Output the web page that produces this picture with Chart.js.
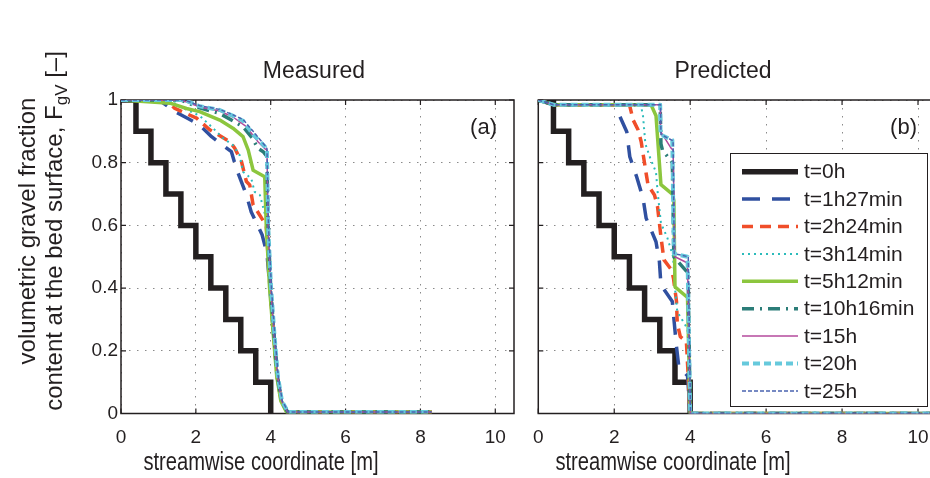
<!DOCTYPE html>
<html>
<head>
<meta charset="utf-8">
<script src="https://cdn.jsdelivr.net/npm/chart.js@4.4.0/dist/chart.umd.min.js"></script>
<style>
  body { margin: 0; background: #fff; }
  #wrap { position: relative; width: 930px; height: 478px; overflow: hidden; }
  #boxA { position: absolute; left: 0; top: 0; }
  #boxB { position: absolute; left: 520px; top: 0; }
</style>
</head>
<body>
<div id="wrap">
  <div id="boxA"><canvas id="chartA" width="520" height="478"></canvas></div>
  <div id="boxB"><canvas id="chartB" width="430" height="478"></canvas></div>
</div>
<script>
"use strict";

// ---------- data ----------
var xTicks = [0, 2, 4, 6, 8, 10];
var yTicks = [0, 0.2, 0.4, 0.6, 0.8, 1];
var seriesLabels = ["t=0h", "t=1h27min", "t=2h24min", "t=3h14min", "t=5h12min", "t=10h16min", "t=15h", "t=20h", "t=25h"];

// initial condition (stepwise), same in both panels
var initX = [0, 0.4, 0.8, 1.2, 1.6, 2.0, 2.4, 2.8, 3.2, 3.6, 4.0];
var initY = [1, 0.9, 0.8, 0.7, 0.6, 0.5, 0.4, 0.3, 0.2, 0.1, 0];

// measured
var meas1h27 = [[0,1],[1.0,1],[1.13,0.99],[1.44,0.963],[1.8,0.94],[2.1,0.92],[2.42,0.883],[2.95,0.835],[3.08,0.782],[3.35,0.697],[3.48,0.643],[3.77,0.57],[3.9,0.51],[3.98,0.4],[4.08,0.25],[4.17,0.12],[4.28,0.04],[4.44,0.005],[8.3,0.005]];
var meas2h24 = [[0,1],[1.2,1],[1.44,0.973],[2.02,0.942],[2.37,0.905],[2.91,0.867],[3.04,0.846],[3.22,0.803],[3.35,0.74],[3.44,0.729],[3.53,0.665],[3.62,0.649],[3.88,0.6],[3.98,0.4],[4.08,0.25],[4.17,0.12],[4.28,0.04],[4.44,0.005],[8.3,0.005]];
var meas3h14 = [[0,1],[1.3,1],[1.57,0.979],[2.1,0.95],[2.46,0.91],[2.73,0.878],[2.99,0.856],[3.17,0.824],[3.26,0.771],[3.48,0.75],[3.57,0.707],[3.71,0.697],[3.88,0.62],[3.98,0.4],[4.08,0.25],[4.17,0.12],[4.28,0.04],[4.44,0.005],[8.3,0.005]];
var meas5h12 = [[0,1],[1.31,0.99],[1.75,0.973],[2.1,0.963],[2.64,0.936],[2.99,0.91],[3.26,0.883],[3.4,0.84],[3.53,0.776],[3.84,0.755],[3.88,0.6],[3.97,0.4],[4.07,0.25],[4.16,0.12],[4.27,0.04],[4.42,0.005],[8.3,0.005]];
var meas10h16 = [[0,1],[1.6,1],[2.1,0.975],[2.64,0.957],[3.26,0.915],[3.5,0.88],[3.66,0.846],[3.8,0.835],[3.9,0.82],[3.93,0.6],[4.0,0.4],[4.09,0.25],[4.18,0.12],[4.29,0.04],[4.45,0.005],[8.3,0.005]];
var meas15h = [[0,1],[1.6,1],[2.1,0.978],[2.64,0.965],[3.0,0.945],[3.35,0.915],[3.66,0.867],[3.84,0.845],[3.9,0.84],[3.93,0.6],[4.0,0.4],[4.09,0.25],[4.18,0.12],[4.29,0.04],[4.45,0.005],[8.3,0.005]];
var meas20h = [[0,1],[1.7,1],[2.1,0.98],[2.64,0.968],[2.95,0.952],[3.26,0.934],[3.53,0.89],[3.84,0.852],[3.9,0.84],[3.93,0.6],[4.01,0.4],[4.1,0.25],[4.19,0.12],[4.3,0.04],[4.46,0.005],[8.3,0.005]];
var meas25h = [[0,1],[1.7,1],[2.1,0.982],[2.64,0.97],[2.95,0.955],[3.26,0.938],[3.53,0.9],[3.84,0.856],[3.9,0.845],[3.94,0.6],[4.02,0.4],[4.11,0.25],[4.2,0.12],[4.31,0.04],[4.47,0.005],[8.3,0.005]];

// predicted
var pred1h27 = [[0,1],[0.4,0.985],[2.0,0.985],[2.11,0.958],[2.33,0.899],[2.41,0.819],[2.59,0.755],[2.76,0.686],[2.84,0.623],[3.1,0.548],[3.19,0.484],[3.23,0.41],[3.53,0.357],[3.59,0.277],[3.64,0.213],[3.7,0.15],[3.93,0.12],[4.0,0],[10.5,0]];
var pred2h24 = [[0,1],[0.4,0.985],[2.4,0.985],[2.5,0.936],[2.63,0.904],[2.71,0.867],[2.84,0.766],[2.89,0.729],[3.06,0.697],[3.14,0.66],[3.23,0.564],[3.31,0.49],[3.51,0.458],[3.56,0.431],[3.64,0.357],[3.66,0.288],[3.74,0.245],[3.9,0.229],[4.0,0],[10.5,0]];
var pred3h14 = [[0,1],[0.4,0.985],[2.7,0.985],[2.76,0.947],[2.82,0.86],[2.95,0.814],[3.1,0.77],[3.14,0.71],[3.23,0.607],[3.4,0.56],[3.55,0.5],[3.6,0.4],[3.66,0.325],[3.87,0.282],[3.93,0.27],[4.0,0],[10.5,0]];
var pred5h12 = [[0,1],[0.4,0.985],[2.97,0.985],[3.1,0.95],[3.23,0.73],[3.53,0.70],[3.57,0.68],[3.6,0.404],[3.93,0.37],[4.0,0],[10.5,0]];
var pred10h16 = [[0,1],[0.4,0.985],[3.21,0.985],[3.23,0.86],[3.27,0.84],[3.44,0.814],[3.53,0.8],[3.57,0.5],[3.64,0.49],[3.93,0.45],[3.95,0.41],[4.0,0],[10.5,0]];
var pred15h = [[0,1],[0.4,0.985],[3.21,0.985],[3.22,0.9],[3.5,0.846],[3.55,0.84],[3.6,0.5],[3.93,0.48],[4.0,0],[10.5,0]];
var pred20h = [[0,1],[0.4,0.985],[3.21,0.985],[3.22,0.89],[3.53,0.872],[3.57,0.51],[3.93,0.5],[4.0,0],[10.5,0]];
var pred25h = [[0,1],[0.4,0.985],[3.22,0.985],[3.23,0.89],[3.55,0.87],[3.58,0.51],[3.95,0.5],[4.01,0],[10.5,0]];

// ---------- styles ----------
var INK = "#231f20";
var GRID = "#8a8a8a";
var FONT = "'Liberation Sans', Arial, sans-serif";
var seriesColors = ["#231f20", "#3050a0", "#f04e2a", "#2bbbbb", "#8cc63e", "#2b7d78", "#b44a9c", "#66c9dc", "#4a63b0"];
var seriesWidths = [5.5, 3.5, 3.5, 2, 3.5, 3.5, 1.5, 4, 1.5];
var seriesDashes = [[], [18, 12], [11, 7], [2, 4], [], [12, 6, 2, 6], [], [7, 4], [4, 2]];

function toPoints(xs, ys) {
  return xs.map(function (x, i) { return { x: x, y: ys[i] }; });
}
function pairs(list) {
  return list.map(function (p) { return { x: p[0], y: p[1] }; });
}

function makeDatasets(curves) {
  var all = [toPoints(initX, initY)].concat(curves.map(pairs));
  return all.map(function (pts, i) {
    return {
      label: seriesLabels[i],
      data: pts,
      borderColor: seriesColors[i],
      borderWidth: seriesWidths[i],
      borderDash: seriesDashes[i],
      stepped: i === 0 ? "before" : false,   // horizontal first, then drop
      borderJoinStyle: i === 0 ? "miter" : "round",
      pointRadius: 0,
      fill: false,
      tension: 0,
      order: all.length - i
    };
  });
}

// box + inward ticks like the original
var framePlugin = {
  id: "frame",
  beforeDatasetsDraw: function (chart) {
    var ctx = chart.ctx, a = chart.chartArea, sx = chart.scales.x, sy = chart.scales.y;
    ctx.save();
    ctx.strokeStyle = INK;
    ctx.lineWidth = 1.5;
    ctx.strokeRect(a.left, a.top, a.right - a.left, a.bottom - a.top);
    ctx.lineWidth = 1.2;
    ctx.beginPath();
    xTicks.forEach(function (v) {
      var px = sx.getPixelForValue(v);
      ctx.moveTo(px, a.bottom); ctx.lineTo(px, a.bottom - 5);
      ctx.moveTo(px, a.top); ctx.lineTo(px, a.top + 5);
    });
    yTicks.forEach(function (v) {
      var py = sy.getPixelForValue(v);
      ctx.moveTo(a.left, py); ctx.lineTo(a.left + 5, py);
      ctx.moveTo(a.right, py); ctx.lineTo(a.right - 5, py);
    });
    ctx.stroke();
    ctx.restore();
  }
};

// the original uses a condensed face, so squeeze the x label a bit
function drawXTitle(chart, cx) {
  var ctx = chart.ctx;
  ctx.save();
  ctx.fillStyle = INK;
  ctx.font = "26px " + FONT;
  ctx.textAlign = "center";
  ctx.textBaseline = "middle";
  ctx.translate(cx, 463);
  ctx.scale(0.775, 1);
  ctx.fillText("streamwise coordinate [m]", 0, 0);
  ctx.restore();
}

function drawTop(chart, title, cx, tag, tagRight) {
  var ctx = chart.ctx;
  ctx.save();
  ctx.fillStyle = INK;
  ctx.textBaseline = "middle";
  ctx.font = "23px " + FONT;
  ctx.textAlign = "center";
  ctx.fillText(title, cx, 72);
  ctx.font = "22px " + FONT;
  ctx.textAlign = "right";
  ctx.fillText(tag, tagRight, 128);
  ctx.restore();
}

function drawYTitle(chart) {
  var ctx = chart.ctx;
  var big = "24px " + FONT, small = "17px " + FONT;
  ctx.save();
  ctx.fillStyle = INK;
  ctx.textBaseline = "middle";
  ctx.translate(28, 231);
  ctx.rotate(-Math.PI / 2);
  ctx.font = big;
  ctx.textAlign = "center";
  ctx.fillText("volumetric gravel fraction", 0, 0);
  ctx.restore();

  var partA = "content at the bed surface, F", partSub = "gV", partC = " [\u2013]";
  ctx.save();
  ctx.fillStyle = INK;
  ctx.textBaseline = "middle";
  ctx.textAlign = "left";
  ctx.translate(55, 231);
  ctx.rotate(-Math.PI / 2);
  ctx.font = big;
  var w1 = ctx.measureText(partA).width, w3 = ctx.measureText(partC).width;
  ctx.font = small;
  var w2 = ctx.measureText(partSub).width;
  var x = -(w1 + w2 + w3) / 2;
  ctx.font = big; ctx.fillText(partA, x, 0); x += w1;
  ctx.font = small; ctx.fillText(partSub, x, 7); x += w2;
  ctx.font = big; ctx.fillText(partC, x, 0);
  ctx.restore();
}

function drawLegend(chart) {
  var ctx = chart.ctx;
  var ox = 520;
  ctx.save();
  ctx.fillStyle = "#fff";
  ctx.fillRect(730 - ox, 153, 197, 253);
  ctx.strokeStyle = INK;
  ctx.lineWidth = 1;
  ctx.strokeRect(730.5 - ox, 153.5, 197, 253);
  chart.data.datasets.forEach(function (ds, i) {
    var y = 171.7 + i * 27.4;
    ctx.beginPath();
    ctx.setLineDash(ds.borderDash);
    ctx.lineWidth = ds.borderWidth;
    ctx.strokeStyle = ds.borderColor;
    ctx.moveTo(742 - ox, y);
    ctx.lineTo(798 - ox, y);
    ctx.stroke();
    ctx.setLineDash([]);
    ctx.fillStyle = INK;
    ctx.font = "21px " + FONT;
    ctx.textBaseline = "middle";
    ctx.textAlign = "left";
    ctx.fillText(ds.label, 804 - ox, y + 1);
  });
  ctx.restore();
}

var textPluginA = {
  id: "textA",
  afterDraw: function (chart) {
    drawTop(chart, "Measured", 314, "(a)", 497);
    drawXTitle(chart, 261);
    drawYTitle(chart);
  }
};
var textPluginB = {
  id: "textB",
  afterDraw: function (chart) {
    drawTop(chart, "Predicted", 723 - 520, "(b)", 917 - 520);
    drawXTitle(chart, 673 - 520);
    drawLegend(chart);
  }
};

function makeOptions(isA) {
  return {
    responsive: false,
    animation: false,
    devicePixelRatio: 1,
    layout: { padding: { left: 0, right: isA ? 6 : 13, top: 100, bottom: 0 } },
    plugins: { legend: { display: false }, tooltip: { enabled: false } },
    scales: {
      x: {
        type: "linear",
        min: 0,
        max: 10.5,
        afterFit: function (s) { s.height = 64.5; },
        afterBuildTicks: function (s) { s.ticks = xTicks.map(function (v) { return { value: v }; }); },
        ticks: {
          color: INK,
          font: { family: FONT, size: 19 },
          padding: 13,
          maxRotation: 0,
          autoSkip: false,
          callback: function (v) { return String(v); }
        },
        grid: { color: GRID, lineWidth: 1, drawTicks: false },
        border: { display: false, dash: [1.5, 6.5] }
      },
      y: {
        type: "linear",
        min: 0,
        max: 1,
        afterFit: function (s) { s.width = isA ? 121 : 9.7; },
        afterBuildTicks: function (s) { s.ticks = yTicks.map(function (v) { return { value: v }; }); },
        ticks: {
          display: isA,
          color: INK,
          font: { family: FONT, size: 19 },
          padding: 3,
          callback: function (v) { return String(Math.round(v * 10) / 10); }
        },
        grid: { color: GRID, lineWidth: 1, drawTicks: false },
        border: { display: false, dash: [1.5, 6.5] }
      }
    }
  };
}

var chartA = new Chart(document.getElementById("chartA").getContext("2d"), {
  type: "line",
  data: { datasets: makeDatasets([meas1h27, meas2h24, meas3h14, meas5h12, meas10h16, meas15h, meas20h, meas25h]) },
  options: makeOptions(true),
  plugins: [framePlugin, textPluginA]
});

var chartB = new Chart(document.getElementById("chartB").getContext("2d"), {
  type: "line",
  data: { datasets: makeDatasets([pred1h27, pred2h24, pred3h14, pred5h12, pred10h16, pred15h, pred20h, pred25h]) },
  options: makeOptions(false),
  plugins: [framePlugin, textPluginB]
});
</script>
</body>
</html>
